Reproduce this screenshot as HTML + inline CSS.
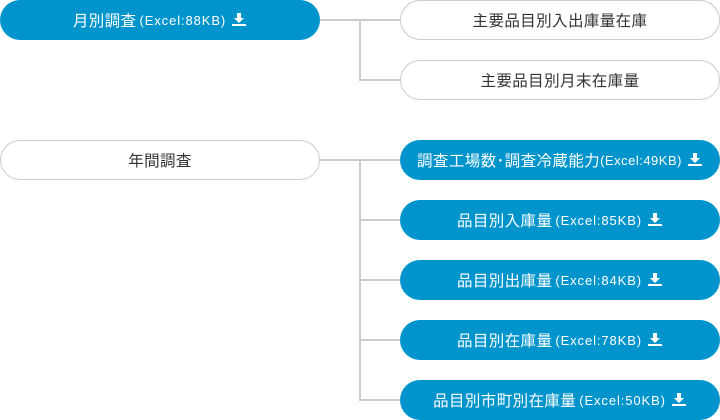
<!DOCTYPE html>
<html><head><meta charset="utf-8"><style>
body{margin:0;width:720px;height:420px;background:#fff;position:relative;overflow:hidden;font-family:"Liberation Sans","Noto Sans CJK JP",sans-serif;}
.p{position:absolute;height:40px;border-radius:20px;box-sizing:border-box;display:flex;align-items:center;justify-content:center;font-size:15.5px;white-space:nowrap;letter-spacing:0.4px}
.b{background:#0094cc;color:#fff}
.w{background:#fff;border:1px solid #ccc;color:#333}
.s{font-size:13px;letter-spacing:0.9px;margin-left:3px}
.l{position:absolute;background:#ccc}
svg{margin-left:5px}
</style></head><body>
<div class="l" style="left:320px;top:19px;width:80px;height:2px"></div>
<div class="l" style="left:359px;top:19px;width:2px;height:62px"></div>
<div class="l" style="left:359px;top:79px;width:41px;height:2px"></div>
<div class="l" style="left:320px;top:159px;width:80px;height:2px"></div>
<div class="l" style="left:359px;top:159px;width:2px;height:242px"></div>
<div class="l" style="left:359px;top:219px;width:41px;height:2px"></div>
<div class="l" style="left:359px;top:279px;width:41px;height:2px"></div>
<div class="l" style="left:359px;top:339px;width:41px;height:2px"></div>
<div class="l" style="left:359px;top:399px;width:41px;height:2px"></div>

<div class="p b" style="left:0;top:0;width:320px">月別調査<span class="s">(Excel:88KB)</span><svg width="16" height="14" viewBox="0 0 16 14"><path d="M6 0h4v5h3l-5 5-5-5h3z" fill="#fff"/><rect x="1" y="11" width="14" height="2" fill="#fff"/></svg></div>
<div class="p w" style="left:400px;top:0;width:320px">主要品目別入出庫量在庫</div>
<div class="p w" style="left:400px;top:60px;width:320px">主要品目別月末在庫量</div>
<div class="p w" style="left:0;top:140px;width:320px">年間調査</div>
<div class="p b" style="left:400px;top:140px;width:320px">調査工場数･調査冷蔵能力<span class="s" style="margin-left:0;letter-spacing:0.5px">(Excel:49KB)</span><svg width="16" height="14" viewBox="0 0 16 14"><path d="M6 0h4v5h3l-5 5-5-5h3z" fill="#fff"/><rect x="1" y="11" width="14" height="2" fill="#fff"/></svg></div>
<div class="p b" style="left:400px;top:200px;width:320px">品目別入庫量<span class="s">(Excel:85KB)</span><svg width="16" height="14" viewBox="0 0 16 14"><path d="M6 0h4v5h3l-5 5-5-5h3z" fill="#fff"/><rect x="1" y="11" width="14" height="2" fill="#fff"/></svg></div>
<div class="p b" style="left:400px;top:260px;width:320px">品目別出庫量<span class="s">(Excel:84KB)</span><svg width="16" height="14" viewBox="0 0 16 14"><path d="M6 0h4v5h3l-5 5-5-5h3z" fill="#fff"/><rect x="1" y="11" width="14" height="2" fill="#fff"/></svg></div>
<div class="p b" style="left:400px;top:320px;width:320px">品目別在庫量<span class="s">(Excel:78KB)</span><svg width="16" height="14" viewBox="0 0 16 14"><path d="M6 0h4v5h3l-5 5-5-5h3z" fill="#fff"/><rect x="1" y="11" width="14" height="2" fill="#fff"/></svg></div>
<div class="p b" style="left:400px;top:380px;width:320px">品目別市町別在庫量<span class="s">(Excel:50KB)</span><svg width="16" height="14" viewBox="0 0 16 14"><path d="M6 0h4v5h3l-5 5-5-5h3z" fill="#fff"/><rect x="1" y="11" width="14" height="2" fill="#fff"/></svg></div>
</body></html>
